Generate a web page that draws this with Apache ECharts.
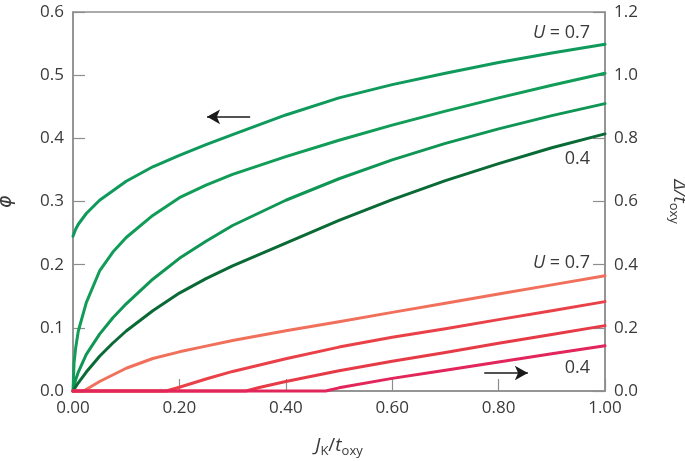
<!DOCTYPE html>
<html>
<head>
<meta charset="utf-8">
<script src="https://cdn.jsdelivr.net/npm/echarts@6/dist/echarts.min.js"></script>
<style>html,body{margin:0;padding:0;background:#fff}#c{width:685px;height:461px}</style>
</head>
<body>
<div id="c"></div>
<script>
// ---- data (x = J_K / t_oxy) ----
const xTicks = [0, 0.2, 0.4, 0.6, 0.8, 1.0];
const phiTicks = [0, 0.1, 0.2, 0.3, 0.4, 0.5, 0.6];
const deltaTicks = [0, 0.2, 0.4, 0.6, 0.8, 1.0, 1.2];

// phi (left axis), U = 0.7 ... 0.4
const xPhi07 = [0, 0.005, 0.01, 0.025, 0.05, 0.1, 0.15, 0.2, 0.25, 0.3, 0.4, 0.5, 0.6, 0.7, 0.8, 0.9, 1.0];
const phi07  = [0.245, 0.256, 0.264, 0.281, 0.302, 0.332, 0.355, 0.373, 0.39, 0.406, 0.437, 0.464, 0.485, 0.503, 0.52, 0.535, 0.549];
const xPhi06 = [0, 0.002, 0.005, 0.01, 0.025, 0.05, 0.075, 0.1, 0.15, 0.2, 0.25, 0.3, 0.4, 0.5, 0.6, 0.7, 0.8, 0.9, 1.0];
const phi06  = [0, 0.045, 0.068, 0.095, 0.14, 0.19, 0.22, 0.243, 0.278, 0.306, 0.326, 0.343, 0.371, 0.397, 0.421, 0.443, 0.464, 0.484, 0.503];
const xPhi05 = [0, 0.005, 0.01, 0.025, 0.05, 0.075, 0.1, 0.15, 0.2, 0.25, 0.3, 0.4, 0.5, 0.6, 0.7, 0.8, 0.9, 1.0];
const phi05  = [0, 0.018, 0.03, 0.058, 0.09, 0.116, 0.138, 0.177, 0.21, 0.237, 0.262, 0.302, 0.336, 0.366, 0.392, 0.415, 0.436, 0.455];
const xPhi04 = [0, 0.01, 0.025, 0.05, 0.075, 0.1, 0.15, 0.2, 0.25, 0.3, 0.4, 0.5, 0.6, 0.7, 0.8, 0.9, 1.0];
const phi04  = [0, 0.013, 0.03, 0.055, 0.076, 0.095, 0.127, 0.155, 0.178, 0.198, 0.234, 0.27, 0.303, 0.333, 0.36, 0.385, 0.407];

// Delta / t_oxy (right axis), U = 0.7 ... 0.4
const xDel07 = [0, 0.02, 0.05, 0.1, 0.15, 0.2, 0.25, 0.3, 0.4, 0.5, 0.6, 0.7, 0.8, 0.9, 1.0];
const del07  = [0, 0, 0.03, 0.072, 0.103, 0.124, 0.142, 0.16, 0.191, 0.219, 0.249, 0.278, 0.307, 0.336, 0.365];
const xDel06 = [0, 0.175, 0.2, 0.25, 0.3, 0.4, 0.5, 0.6, 0.7, 0.8, 0.9, 1.0];
const del06  = [0, 0, 0.012, 0.038, 0.062, 0.102, 0.139, 0.17, 0.197, 0.226, 0.254, 0.283];
const xDel05 = [0, 0.325, 0.35, 0.4, 0.5, 0.6, 0.7, 0.8, 0.9, 1.0];
const del05  = [0, 0, 0.011, 0.03, 0.064, 0.094, 0.122, 0.151, 0.179, 0.207];
const xDel04 = [0, 0.475, 0.5, 0.6, 0.7, 0.8, 0.9, 1.0];
const del04  = [0, 0, 0.01, 0.04, 0.066, 0.092, 0.118, 0.143];

const pairs = (xs, ys) => xs.map((x, i) => [x, ys[i]]);

const FONT = 'Open Sans';
const TXT = '#3a3a3a';
const AX = '#8e8e8e';

const chart = echarts.init(document.getElementById('c'), null, {renderer: 'canvas'});

function lineSeries(name, data, color, yIdx, extra) {
  return Object.assign({
    name, type: 'line', data, yAxisIndex: yIdx, showSymbol: false, symbol: 'none',
    smooth: false, clip: false,
    lineStyle: {color, width: 3, join: 'round', cap: 'round'}, itemStyle: {color}, z: 3
  }, extra || {});
}

const axisCommon = {
  axisLine: {show: true, lineStyle: {color: AX, width: 1.5}},
  axisTick: {show: true, inside: true, length: 12, lineStyle: {color: AX, width: 1.2}},
  splitLine: {show: false},
  axisLabel: {color: TXT, fontFamily: FONT, fontSize: 17}
};

const option = {
  animation: false,
  backgroundColor: '#fff',
  grid: {left: 73, right: 80, top: 12, bottom: 70, containLabel: false, outerBoundsMode: 'none',
         show: true, borderColor: AX, borderWidth: 1.5},
  xAxis: Object.assign({}, axisCommon, {
    type: 'value', min: 0, max: 1, interval: 0.2,
    axisLabel: Object.assign({}, axisCommon.axisLabel, {margin: 9, formatter: v => v.toFixed(2)}),
    name: '{i|J}{s|K}{n|/}{i|t}{s|oxy}', nameLocation: 'middle', nameGap: 43,
    nameTextStyle: {color: TXT, fontFamily: FONT, rich: {
      i: {fontStyle: 'italic', fontSize: 19, fontFamily: FONT, color: TXT, lineHeight: 24},
      n: {fontSize: 19, fontFamily: FONT, color: TXT, lineHeight: 24},
      s: {fontSize: 13, fontFamily: FONT, color: TXT, lineHeight: 24, padding: [10, 0, 0, 0]}
    }}
  }),
  yAxis: [
    Object.assign({}, axisCommon, {
      type: 'value', min: 0, max: 0.6, interval: 0.1, position: 'left',
      axisLabel: Object.assign({}, axisCommon.axisLabel, {margin: 9, formatter: v => v.toFixed(1)}),
      name: 'ϕ', nameLocation: 'middle', nameGap: 57, nameRotate: 90,
      nameTextStyle: {color: TXT, fontFamily: 'DejaVu Sans', fontStyle: 'italic', fontSize: 19}
    }),
    Object.assign({}, axisCommon, {
      type: 'value', min: 0, max: 1.2, interval: 0.2, position: 'right',
      axisLabel: Object.assign({}, axisCommon.axisLabel, {margin: 9, formatter: v => v.toFixed(1)}),
      name: '{n|Δ/}{i|t}{s|oxy}', nameLocation: 'middle', nameGap: 62, nameRotate: -90,
      nameTextStyle: {color: TXT, fontFamily: FONT, rich: {
        i: {fontStyle: 'italic', fontSize: 19, fontFamily: FONT, color: TXT, lineHeight: 24},
        n: {fontStyle: 'italic', fontSize: 19, fontFamily: FONT, color: TXT, lineHeight: 24},
        s: {fontSize: 13, fontFamily: FONT, color: TXT, lineHeight: 24, padding: [10, 0, 0, 0]}
      }}
    })
  ],
  series: [
    lineSeries('phi U=0.7', pairs(xPhi07, phi07), '#0f9a5c', 0, {
      markLine: {silent: true, symbol: ['none', 'arrow'], symbolSize: [11, 13], label: {show: false},
        lineStyle: {color: '#1a1a1a', width: 1.6, type: 'solid'},
        data: [[{coord: [0.333, 0.434]}, {coord: [0.252, 0.434]}]]}
    }),
    lineSeries('phi U=0.6', pairs(xPhi06, phi06), '#119c58', 0),
    lineSeries('phi U=0.5', pairs(xPhi05, phi05), '#0f9655', 0),
    lineSeries('phi U=0.4', pairs(xPhi04, phi04), '#0a6a36', 0),
    lineSeries('Delta U=0.7', pairs(xDel07, del07), '#f1705c', 1, {
      markLine: {silent: true, symbol: ['none', 'arrow'], symbolSize: [11, 13], label: {show: false},
        lineStyle: {color: '#1a1a1a', width: 1.6, type: 'solid'},
        data: [[{coord: [0.773, 0.057]}, {coord: [0.855, 0.057]}]]}
    }),
    lineSeries('Delta U=0.6', pairs(xDel06, del06), '#ea4149', 1),
    lineSeries('Delta U=0.5', pairs(xDel05, del05), '#e63a47', 1),
    lineSeries('Delta U=0.4', pairs(xDel04, del04), '#e2255a', 1)
  ]
};
chart.setOption(option);

// annotation texts placed through the axes' scales
const notes = [
  {t: '{i|U} = 0.7', x: 0.972, y: 0.567, ax: 0},
  {t: '0.4', x: 0.972, y: 0.367, ax: 0},
  {t: '{i|U} = 0.7', x: 0.972, y: 0.405, ax: 1},
  {t: '0.4', x: 0.972, y: 0.074, ax: 1}
];
const graphic = notes.map(n => {
  const p = chart.convertToPixel({xAxisIndex: 0, yAxisIndex: n.ax}, [n.x, n.y]);
  return {type: 'text', x: p[0], y: p[1], z: 10, style: {
    text: n.t, fill: TXT, font: '18px "' + FONT + '"', align: 'right', verticalAlign: 'middle',
    rich: {i: {fontStyle: 'italic', fontSize: 18, fontFamily: FONT, fill: TXT}}
  }};
});
chart.setOption({graphic});
</script>
</body>
</html>
